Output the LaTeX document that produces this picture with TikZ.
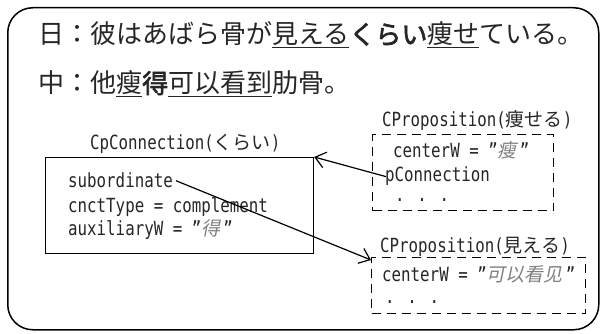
\documentclass[tikz,border=0pt]{standalone}
\usepackage{fontspec}
\usetikzlibrary{arrows.meta}
\newfontfamily\jpf{Noto Sans CJK JP}[AutoFakeBold=2.5]
\newfontfamily\scf{Noto Sans CJK SC}[AutoFakeBold=2.5]
\newfontfamily\jpsl{Noto Sans CJK JP}[FakeSlant=0.2]
\newfontfamily\scsl{Noto Sans CJK SC}[FakeSlant=0.2]
\newfontfamily\monof{DejaVu Sans Mono}[FakeStretch=0.81]
\newcommand\mt{\monof\fontsize{19.5}{22}\selectfont}
\newcommand\jt{\jpf\fontsize{19}{22}\selectfont}
\newcommand\gs[1]{{\scsl\fontsize{19}{22}\selectfont\color{gray}#1}\kern3pt}
\newcommand\ulx[1]{\underline{#1}}
\tikzset{
  box/.style={draw, line width=1.2pt, inner sep=0, anchor=north west},
  dbox/.style={box, dash pattern=on 9pt off 6pt},
  txt/.style={anchor=base west, inner sep=0, text=black!85},
  arr/.style={line width=1.2pt, -{Straight Barb[length=10pt,width=16pt]}},
}
\begin{document}
\begin{tikzpicture}[x=1pt,y=-1pt]
\useasboundingbox (0,0) rectangle (603,334);
\node[draw, line width=1.5pt, rounded corners=25pt, minimum width=591pt, minimum height=322pt, inner sep=0, anchor=north west] (frame) at (7,7) {};

\node[txt] (l1) at (38,44) {\jpf\fontsize{26}{30}\selectfont 日：彼はあばら骨が\ulx{見える}\textbf{くらい}\ulx{痩せ}ている。};
\node[txt] (l2) at (38,93) {\jpf\fontsize{26}{30}\selectfont 中：\scf 他\ulx{瘦}\textbf{得}\ulx{可以看到}肋骨。};

% left box
\node[box, minimum width=268pt, minimum height=96pt] (cc) at (45,157) {};
\node[txt] (cct) at (90,150) {\mt CpConnection(\jt くらい\mt )};
\node[txt] (sub) at (68,188) {\mt subordinate};
\node[txt] (cnt) at (68,212) {\mt cnctType = complement};
\node[txt] (aux) at (68,236) {\mt auxiliaryW = ”\gs{得}\mt ”};

% right box 1
\node[dbox, minimum width=181pt, minimum height=76pt] (b1) at (372,134) {};
\node[txt] (b1t) at (382,127) {\mt CProposition(\jt 痩せる\mt )};
\node[txt] (b1c) at (393,158) {\mt centerW = ”\gs{瘦}\mt ”};
\node[txt] (pc) at (385,182) {\mt pConnection};
\node[txt] (b1d) at (395,202) {\mt . . .};

% right box 2
\node[dbox, minimum width=214pt, minimum height=56pt] (b2) at (371,257) {};
\node[txt] (b2t) at (380,252) {\mt CProposition(\jt 見える\mt )};
\node[txt] (b2c) at (382,281) {\mt centerW = ”\gs{可以看见}\mt ”};
\node[txt] (b2d) at (385,303) {\mt . . .};

% connectors
\draw[arr] ([xshift=1pt]pc.west) -- (cc.north east);
\draw[arr] ([xshift=3pt]sub.east) -- ([yshift=-3pt]b2.north west);
\end{tikzpicture}
\end{document}
